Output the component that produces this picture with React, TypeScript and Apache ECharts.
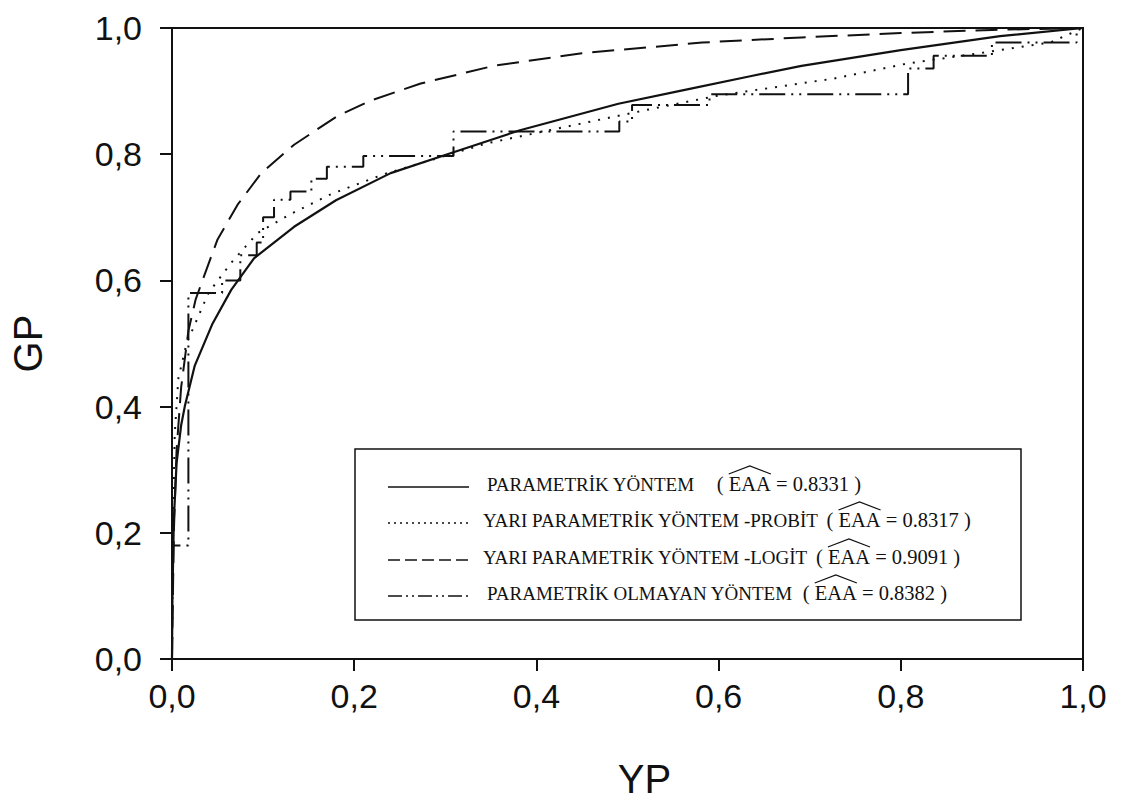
import React, { useEffect, useRef } from "react";
import * as echarts from "echarts";

// ---- data ----
const xTicks = [0, 0.2, 0.4, 0.6, 0.8, 1.0];

const parametricX = [0, 0.0005, 0.002, 0.005, 0.01, 0.014, 0.025, 0.044, 0.065, 0.09, 0.134, 0.18, 0.24, 0.309, 0.382, 0.49, 0.563, 0.636, 0.691, 0.8, 0.909, 1];
const parametricY = [0, 0.1, 0.22, 0.31, 0.37, 0.4, 0.465, 0.53, 0.585, 0.635, 0.685, 0.727, 0.77, 0.803, 0.838, 0.88, 0.902, 0.924, 0.94, 0.965, 0.987, 1];

const probitX = [0, 0.001, 0.003, 0.007, 0.016, 0.04, 0.065, 0.094, 0.13, 0.175, 0.232, 0.345, 0.454, 0.527, 0.6, 0.727, 0.808, 0.891, 0.964, 1];
const probitY = [0, 0.2, 0.356, 0.445, 0.5, 0.58, 0.628, 0.675, 0.705, 0.737, 0.768, 0.817, 0.85, 0.872, 0.893, 0.92, 0.944, 0.961, 0.977, 1];

const logitX = [0, 0.002, 0.005, 0.01, 0.018, 0.026, 0.036, 0.05, 0.072, 0.098, 0.134, 0.181, 0.218, 0.273, 0.353, 0.45, 0.582, 0.691, 0.8, 0.9, 1];
const logitY = [0, 0.2, 0.33, 0.43, 0.52, 0.57, 0.61, 0.665, 0.72, 0.77, 0.815, 0.86, 0.885, 0.912, 0.94, 0.96, 0.977, 0.985, 0.992, 0.997, 1];

// empirical ROC: x position of each vertical jump and the level reached
const nonparamStepX = [0, 0.018, 0.055, 0.075, 0.093, 0.1, 0.112, 0.13, 0.153, 0.17, 0.21, 0.309, 0.491, 0.505, 0.59, 0.808, 0.836, 0.9, 0.993];
const nonparamStepY = [0.18, 0.58, 0.6, 0.64, 0.66, 0.7, 0.728, 0.741, 0.761, 0.78, 0.797, 0.836, 0.852, 0.878, 0.895, 0.936, 0.956, 0.977, 1.0];

const legendNames = [
  "PARAMETRİK YÖNTEM",
  "YARI PARAMETRİK YÖNTEM -PROBİT",
  "YARI PARAMETRİK YÖNTEM -LOGİT",
  "PARAMETRİK OLMAYAN YÖNTEM",
];
const aucValues = ["0.8331", "0.8317", "0.9091", "0.8382"];

const zip = (xs: number[], ys: number[]) => xs.map((x, i) => [x, ys[i]]);

function stepPoints(xs: number[], ys: number[]) {
  const pts: number[][] = [[0, 0]];
  let prev = 0;
  xs.forEach((x, i) => {
    pts.push([x, prev]);
    pts.push([x, ys[i]]);
    prev = ys[i];
  });
  pts.push([1, prev]);
  return pts;
}

const INK = "#111";
const SANS = '"Liberation Sans", Arial, sans-serif';
const SERIF = '"Liberation Serif", "Times New Roman", serif';

const DASHES = {
  solid: "solid" as any,
  dotted: [2, 8],
  dashed: [22, 10],
  dashdotdot: [26, 6, 2, 6, 2, 6],
};

function measure(text: string, font: string): number {
  try {
    const c = document.createElement("canvas").getContext("2d");
    if (c) {
      c.font = font;
      return c.measureText(text).width;
    }
  } catch (e) {}
  return text.length * 10;
}

function buildLegend() {
  const nameFont = `19px ${SERIF}`;
  const pf = `20.5px ${SERIF}`;
  const box = { x: 355, y: 449, w: 666, h: 171 };
  const rowsY = [484, 520, 557, 593];
  const textX = [487, 483, 483, 487];
  const gapBeforeParen = [22, 8, 8, 10];
  const legendDash = [null, [2, 4], [12, 5], [14, 4, 2, 4, 2, 4]];
  const els: any[] = [
    {
      type: "rect",
      shape: { x: box.x, y: box.y, width: box.w, height: box.h },
      style: { fill: "#fff", stroke: INK, lineWidth: 1.5 },
      z: 10,
    },
  ];
  rowsY.forEach((y, i) => {
    els.push({
      type: "line",
      shape: { x1: 388, y1: y + 3, x2: 469, y2: y + 3 },
      style: { stroke: INK, lineWidth: 1.4, lineDash: legendDash[i] },
      z: 11,
    });
    const txt = (t: string, xx: number, font: string) => ({
      type: "text",
      x: xx,
      y,
      style: { text: t, font, fill: INK, verticalAlign: "middle", align: "left" },
      z: 11,
    });
    els.push(txt(legendNames[i], textX[i], nameFont));
    let x = textX[i] + measure(legendNames[i], nameFont) + gapBeforeParen[i];
    const open = "( ";
    const hat = "EAA";
    const rest = " = " + aucValues[i] + " )";
    els.push(txt(open, x, pf));
    x += measure(open, pf);
    const hatW = measure(hat, pf);
    els.push(txt(hat, x, pf));
    els.push({
      type: "polyline",
      shape: { points: [[x, y - 10], [x + hatW / 2, y - 18], [x + hatW, y - 10]] },
      style: { stroke: INK, lineWidth: 1.2, fill: null },
      z: 11,
    });
    x += hatW;
    els.push(txt(rest, x, pf));
  });
  return els;
}

export default function App() {
  const ref = useRef<HTMLDivElement>(null);
  useEffect(() => {
    if (!ref.current) return;
    const chart = echarts.init(ref.current, null, { renderer: "svg" });
    const fmt = (v: number) => v.toFixed(1).replace(".", ",");
    const axisCommon = {
      type: "value",
      min: xTicks[0],
      max: xTicks[xTicks.length - 1],
      interval: 0.2,
      axisLine: { show: true, onZero: false, lineStyle: { color: INK, width: 2 } },
      axisTick: { show: true, inside: false, length: 12, lineStyle: { color: INK, width: 2 } },
      splitLine: { show: false },
      nameLocation: "middle",
    };
    const curve = (name: string, data: number[][], dash: any, width = 2) => ({
      name,
      type: "line",
      data,
      showSymbol: false,
      symbol: "none",
      smooth: false,
      lineStyle: { color: INK, width, type: dash },
      clip: true,
    });
    chart.setOption({
      animation: false,
      backgroundColor: "#fff",
      grid: {
        left: 162,
        right: 48,
        top: 28,
        bottom: 136,
        show: true,
        borderColor: INK,
        borderWidth: 2,
        backgroundColor: "transparent",
      },
      xAxis: {
        ...axisCommon,
        name: "YP",
        nameGap: 100,
        nameTextStyle: { fontSize: 40, fontFamily: SANS, color: INK, padding: [0, 0, 0, 34] },
        axisLabel: { formatter: fmt, fontSize: 34, fontFamily: SANS, color: INK, margin: 20 },
      },
      yAxis: {
        ...axisCommon,
        name: "GP",
        nameGap: 124,
        nameTextStyle: { fontSize: 40, fontFamily: SANS, color: INK },
        axisLabel: { formatter: fmt, fontSize: 34, fontFamily: SANS, color: INK, margin: 30 },
      },
      series: [
        curve(legendNames[0], zip(parametricX, parametricY), "solid", 2.2),
        curve(legendNames[1], zip(probitX, probitY), DASHES.dotted, 2),
        curve(legendNames[2], zip(logitX, logitY), DASHES.dashed, 2),
        curve(legendNames[3], stepPoints(nonparamStepX, nonparamStepY), DASHES.dashdotdot, 2),
      ],
      graphic: buildLegend(),
    });
    return () => chart.dispose();
  }, []);
  return (
    <div
      ref={ref}
      style={{ position: "fixed", left: 0, top: 0, width: 1131, height: 804, background: "#fff" }}
    />
  );
}
